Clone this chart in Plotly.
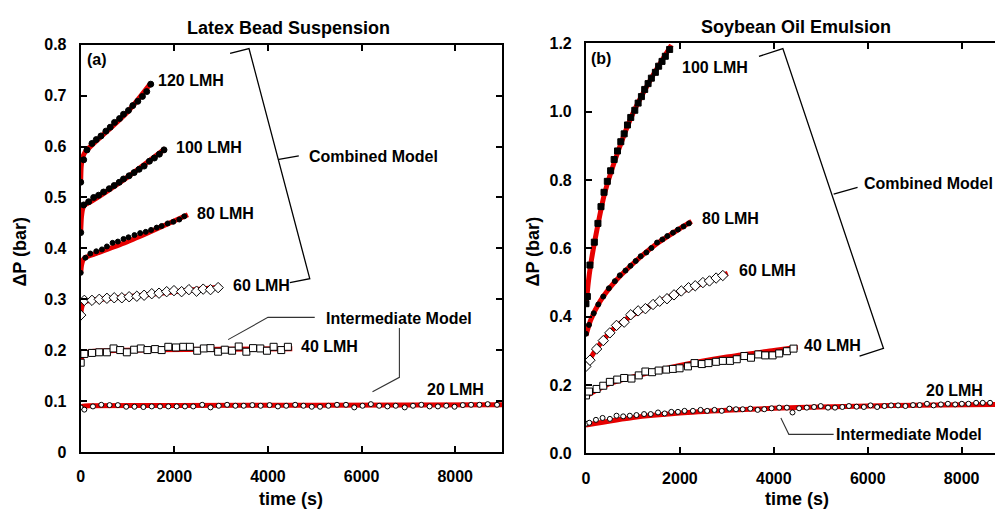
import plotly.graph_objects as go

W, H = 995, 512
FONT = "Liberation Sans, Arial, sans-serif"
RED = "#e60000"

# ---------------- Panel (a): Latex Bead Suspension ----------------
a120_t = [0, 64, 135, 241, 333, 433, 539, 631, 723, 830, 915, 1021, 1113, 1220, 1319, 1411, 1496]
a120_v = [0.530, 0.574, 0.5935, 0.6061, 0.6137, 0.6208, 0.6303, 0.638, 0.6475, 0.6551, 0.6634,
          0.671, 0.6805, 0.6889, 0.6985, 0.708, 0.7225]
a120_mt = [0, 10, 40, 100, 300, 1000, 1500]
a120_mv = [0.530, 0.560, 0.578, 0.590, 0.608, 0.668, 0.725]

a100_t = [0, 64, 170, 277, 383, 489, 610, 716, 823, 915, 1035, 1142, 1248, 1355, 1468, 1574, 1681, 1780]
a100_v = [0.431, 0.4853, 0.4917, 0.500, 0.5044, 0.5107, 0.5172, 0.5235, 0.5298, 0.5363, 0.5426,
          0.5489, 0.5554, 0.5617, 0.5712, 0.5775, 0.5851, 0.5935]
a100_mt = [0, 15, 40, 80, 200, 1000, 1810]
a100_mv = [0.431, 0.460, 0.477, 0.485, 0.491, 0.540, 0.596]

a80_t = [0, 100, 206, 333, 454, 560, 681, 794, 915, 1021, 1149, 1270, 1390, 1504, 1624, 1730,
         1858, 1979, 2106, 2213]
a80_v = [0.352, 0.3817, 0.3899, 0.3943, 0.398, 0.4038, 0.4109, 0.4134, 0.4185, 0.4218, 0.4261,
         0.430, 0.4325, 0.4363, 0.4408, 0.444, 0.449, 0.4523, 0.4567, 0.463]
a80_mt = [0, 20, 50, 100, 300, 1000, 1500, 2290]
a80_mv = [0.352, 0.368, 0.377, 0.382, 0.389, 0.413, 0.433, 0.466]

a60_t = [0, 78, 241, 397, 560, 716, 879, 1035, 1199, 1355, 1518, 1674, 1837, 1993, 2156, 2312,
         2475, 2617, 2773, 2936]
a60_v = [0.269, 0.298, 0.298, 0.300, 0.302, 0.303, 0.303, 0.305, 0.306, 0.308, 0.311, 0.312,
         0.315, 0.317, 0.315, 0.319, 0.316, 0.320, 0.319, 0.323]
a60_mt = [0, 20, 50, 100, 300, 1000, 2000, 3000]
a60_mv = [0.269, 0.283, 0.292, 0.296, 0.299, 0.305, 0.315, 0.324]

a40_t = [0, 78, 241, 397, 560, 702, 844, 986, 1142, 1284, 1426, 1589, 1730, 1872, 2035, 2191,
         2333, 2489, 2631, 2773, 2936, 3078, 3234, 3376, 3539, 3681, 3837, 3979, 4121, 4284, 4426]
a40_v = [0.1755, 0.1927, 0.1947, 0.1959, 0.1959, 0.2035, 0.2003, 0.1959, 0.2010, 0.2035, 0.2003,
         0.2022, 0.2003, 0.2067, 0.2054, 0.2067, 0.2067, 0.1990, 0.2035, 0.2041, 0.1971, 0.2010,
         0.1990, 0.2073, 0.1971, 0.2041, 0.2035, 0.1990, 0.2067, 0.2003, 0.2067]
a40_mt = [0, 30, 80, 200, 500, 1500, 3000, 4520]
a40_mv = [0.176, 0.187, 0.193, 0.197, 0.199, 0.201, 0.202, 0.203]

a20_t = [0, 78, 262, 440, 617, 794, 972, 1149, 1340, 1518, 1695, 1872, 2050, 2227, 2404, 2596,
         2773, 2950, 3128, 3305, 3482, 3667, 3844, 4035, 4213, 4390, 4582, 4759, 4936, 5113, 5291,
         5475, 5667, 5844, 6021, 6199, 6376, 6553, 6730, 6922, 7099, 7277, 7454, 7631, 7809, 7986,
         8163, 8340, 8518, 8695, 8894]
a20_v = [0.0877, 0.0833, 0.0896, 0.0928, 0.0922, 0.0922, 0.0890, 0.0890, 0.0884, 0.0896, 0.0896,
         0.0896, 0.0896, 0.0896, 0.0896, 0.0928, 0.0877, 0.0909, 0.0928, 0.0909, 0.0909, 0.0922,
         0.0909, 0.0922, 0.0896, 0.0909, 0.0928, 0.0909, 0.0890, 0.0890, 0.0909, 0.0928, 0.0928,
         0.0877, 0.0909, 0.0941, 0.0909, 0.0896, 0.0909, 0.0877, 0.0909, 0.0928, 0.0896, 0.0896,
         0.0909, 0.0890, 0.0922, 0.0928, 0.0928, 0.0941, 0.0928]
a20_mt = [0, 50, 200, 2000, 5000, 9000]
a20_mv = [0.087, 0.090, 0.091, 0.0915, 0.092, 0.093]

# ---------------- Panel (b): Soybean Oil Emulsion ----------------
b100_t = [0, 30, 85, 178, 255, 320, 385, 455, 525, 600, 672, 742, 814, 884, 954, 1040, 1111,
          1181, 1251, 1323, 1393, 1478, 1548, 1620, 1690, 1782]
b100_v = [0.438, 0.459, 0.551, 0.618, 0.673, 0.722, 0.764, 0.796, 0.827, 0.860, 0.885, 0.912,
          0.935, 0.961, 0.983, 1.004, 1.025, 1.044, 1.065, 1.082, 1.098, 1.115, 1.133, 1.147,
          1.162, 1.182]
b100_mt = [0, 50, 100, 200, 400, 700, 1000, 1400, 1820]
b100_mv = [0.430, 0.500, 0.552, 0.630, 0.762, 0.890, 0.995, 1.100, 1.195]

b80_t = [0, 64, 165, 263, 369, 488, 615, 721, 842, 948, 1060, 1166, 1287, 1393, 1514, 1627,
         1733, 1853, 1960, 2078, 2193]
b80_v = [0.350, 0.376, 0.410, 0.436, 0.459, 0.483, 0.504, 0.521, 0.535, 0.549, 0.563, 0.577,
         0.588, 0.601, 0.617, 0.626, 0.636, 0.646, 0.655, 0.664, 0.673]
b80_mt = [0, 100, 300, 600, 1000, 1500, 2000, 2250]
b80_mv = [0.345, 0.390, 0.445, 0.500, 0.555, 0.613, 0.658, 0.679]

b60_t = [0, 85, 227, 369, 509, 651, 814, 954, 1111, 1266, 1429, 1570, 1726, 1875, 2030, 2185,
         2327, 2490, 2630, 2772, 2914]
b60_v = [0.2546, 0.2727, 0.3055, 0.330, 0.3527, 0.3745, 0.384, 0.4057, 0.417, 0.4235, 0.4357,
         0.4452, 0.4526, 0.4639, 0.4752, 0.4848, 0.4905, 0.4998, 0.5046, 0.5131, 0.5205]
b60_mt = [0, 100, 300, 600, 1000, 1500, 2000, 2500, 3020]
b60_mv = [0.255, 0.280, 0.320, 0.366, 0.405, 0.440, 0.472, 0.499, 0.527]

b40_t = [0, 64, 227, 369, 509, 666, 814, 969, 1124, 1266, 1408, 1548, 1712, 1853, 1994, 2172,
         2312, 2469, 2609, 2772, 2914, 3069, 3211, 3372, 3514, 3669, 3818, 3974, 4115, 4278, 4420]
b40_v = [0.1697, 0.181, 0.1886, 0.198, 0.2093, 0.216, 0.2207, 0.219, 0.2283, 0.2396, 0.2376,
         0.2424, 0.2452, 0.2472, 0.249, 0.2546, 0.2642, 0.2614, 0.2642, 0.268, 0.2707, 0.2707,
         0.2755, 0.2849, 0.280, 0.2896, 0.2868, 0.2868, 0.2925, 0.299, 0.3066]
b40_mt = [0, 500, 1000, 2000, 3000, 4000, 4510]
b40_mv = [0.168, 0.204, 0.224, 0.257, 0.282, 0.301, 0.311]

b20_t = [0, 71, 213, 354, 510, 651, 793, 934, 1075, 1238, 1379, 1535, 1676, 1818, 1959, 2100,
         2277, 2440, 2581, 2737, 2892, 3055, 3196, 3338, 3500, 3656, 3797, 3953, 4115, 4278, 4398,
         4539, 4702, 4857, 4999, 5154, 5303, 5459, 5600, 5762, 5918, 6059, 6201, 6356, 6498, 6646,
         6802, 6964, 7106, 7261, 7403, 7558, 7707, 7862, 8004, 8145, 8308, 8449, 8605]
b20_v = [0.0868, 0.0897, 0.0982, 0.1038, 0.1010, 0.1103, 0.1084, 0.1103, 0.1122, 0.1151, 0.1151,
         0.1198, 0.1169, 0.1216, 0.1216, 0.1245, 0.1245, 0.1273, 0.1245, 0.1273, 0.1245, 0.1310,
         0.1292, 0.1292, 0.1310, 0.1273, 0.1292, 0.1320, 0.1339, 0.1339, 0.1198, 0.1320, 0.1339,
         0.1358, 0.1386, 0.1339, 0.1339, 0.1358, 0.1386, 0.1367, 0.1358, 0.1405, 0.1358, 0.1386,
         0.1405, 0.1405, 0.1386, 0.1414, 0.1414, 0.1452, 0.1405, 0.1433, 0.1452, 0.1433, 0.1452,
         0.1452, 0.1480, 0.1480, 0.1480]
b20_mt = [0, 1000, 2000, 3000, 4000, 5000, 6000, 7000, 8710]
b20_mv = [0.083, 0.105, 0.118, 0.126, 0.132, 0.136, 0.139, 0.141, 0.143]

# ticks
x_ticks = [0, 2000, 4000, 6000, 8000]
x_ticktext = ["0", "2000", "4000", "6000", "8000"]
ya_ticks = [0, 0.1, 0.2, 0.3, 0.4, 0.5, 0.6, 0.7, 0.8]
ya_ticktext = ["0", "0.1", "0.2", "0.3", "0.4", "0.5", "0.6", "0.7", "0.8"]
yb_ticks = [0, 0.2, 0.4, 0.6, 0.8, 1.0, 1.2]
yb_ticktext = ["0.0", "0.2", "0.4", "0.6", "0.8", "1.0", "1.2"]

fig = go.Figure()


def model(t, v, xa, ya):
    fig.add_trace(go.Scatter(x=t, y=v, mode="lines", xaxis=xa, yaxis=ya, showlegend=False,
                             line=dict(color=RED, width=5, shape="spline", smoothing=0.6),
                             hoverinfo="skip"))


def data(t, v, xa, ya, symbol, size, fill):
    fig.add_trace(go.Scatter(x=t, y=v, mode="markers", xaxis=xa, yaxis=ya, showlegend=False,
                             marker=dict(symbol=symbol, size=size, color=fill,
                                         line=dict(color="black", width=1))))


# panel a
for mt, mv in [(a120_mt, a120_mv), (a100_mt, a100_mv), (a80_mt, a80_mv),
               (a60_mt, a60_mv), (a40_mt, a40_mv), (a20_mt, a20_mv)]:
    model(mt, mv, "x", "y")
data(a120_t, a120_v, "x", "y", "circle", 6, "black")
data(a100_t, a100_v, "x", "y", "circle", 6, "black")
data(a80_t, a80_v, "x", "y", "circle", 5, "black")
data(a60_t, a60_v, "x", "y", "diamond", 8, "white")
data(a40_t, a40_v, "x", "y", "square", 7, "white")
data(a20_t, a20_v, "x", "y", "circle", 5, "white")

# panel b
for mt, mv in [(b100_mt, b100_mv), (b80_mt, b80_mv), (b60_mt, b60_mv),
               (b40_mt, b40_mv), (b20_mt, b20_mv)]:
    model(mt, mv, "x2", "y2")
data(b100_t, b100_v, "x2", "y2", "square", 6, "black")
data(b80_t, b80_v, "x2", "y2", "circle", 5, "black")
data(b60_t, b60_v, "x2", "y2", "diamond", 8, "white")
data(b40_t, b40_v, "x2", "y2", "square", 7, "white")
data(b20_t, b20_v, "x2", "y2", "circle", 5, "white")


def px(x):
    return x / W


def py(y):
    return 1 - y / H


tickfont = dict(family=FONT, size=16, color="black", weight="bold")
axis_common = dict(showline=True, linecolor="black", linewidth=2,
                   ticks="inside", ticklen=6, tickwidth=2, tickcolor="black",
                   showgrid=False, zeroline=False, tickfont=tickfont, tickmode="array",
                   ticklabelstandoff=9)

fig.update_layout(
    width=W, height=H, margin=dict(l=0, r=0, t=0, b=0),
    paper_bgcolor="white", plot_bgcolor="white",
    xaxis=dict(domain=[px(77), px(500)], range=[0, 9000], anchor="y", mirror="ticks",
               tickvals=x_ticks, ticktext=x_ticktext, **axis_common),
    yaxis=dict(domain=[py(459.3), py(38)], range=[0, 0.8], anchor="x", mirror="ticks",
               tickvals=ya_ticks, ticktext=ya_ticktext, **axis_common),
    xaxis2=dict(domain=[px(584.3), 1.0], range=[0, 8710], anchor="y2", mirror="ticks",
                tickvals=x_ticks, ticktext=x_ticktext, **axis_common),
    yaxis2=dict(domain=[py(460.7), py(36.5)], range=[0, 1.2], anchor="x2", mirror=False,
                tickvals=yb_ticks, ticktext=yb_ticktext, **axis_common),
)

annots = []


def txt(text, x, y, size=16, xanchor="left", angle=0):
    annots.append(dict(text="<b>" + text + "</b>", x=px(x), y=py(y), xref="paper", yref="paper",
                       showarrow=False, xanchor=xanchor, yanchor="middle", textangle=angle,
                       font=dict(family=FONT, size=size, color="black")))


# titles
txt("Latex Bead Suspension", 286, 21, 18, "center")
txt("Soybean Oil Emulsion", 795, 20, 18, "center")
txt("time (s)", 288, 508, 18, "center")
txt("time (s)", 796, 508, 18, "center")
txt("ΔP (bar)", 16, 252, 18, "center", -90)
txt("ΔP (bar)", 531, 252, 18, "center", -90)
# panel labels
txt("(a)", 81, 53, 16)
txt("(b)", 587, 52, 16)
# series labels panel a
txt("120 LMH", 153, 75)
txt("100 LMH", 171, 144)
txt("80 LMH", 192, 213)
txt("60 LMH", 228, 287)
txt("40 LMH", 296, 350)
txt("20 LMH", 423, 395)
txt("Intermediate Model", 321, 321)
txt("Combined Model", 304, 154)
# series labels panel b
txt("100 LMH", 679, 62)
txt("80 LMH", 699, 218)
txt("60 LMH", 736, 272)
txt("40 LMH", 801, 349)
txt("20 LMH", 924, 396)
txt("Intermediate Model", 833, 441)
txt("Combined Model", 861, 182)

fig.update_layout(annotations=annots)

shapes = []


def path(points, color="black", width=1.3):
    d = "M " + " L ".join(f"{px(x):.5f},{py(y):.5f}" for x, y in points)
    shapes.append(dict(type="path", path=d, xref="paper", yref="paper",
                       line=dict(color=color, width=width)))


# panel a bracket (Combined Model)
path([(227, 47), (246, 42), (307, 280), (287, 284)])
path([(276, 156.5), (296, 153)])
# panel a Intermediate Model leaders
path([(225, 343), (265, 320), (312, 320)], color="#333333", width=1.1)
path([(397, 331), (397, 382), (370, 397)], color="#333333", width=1.1)
# panel b bracket
path([(758, 50), (782, 42), (883, 352), (859, 360)])
path([(833, 192.5), (857, 185.5)])
# panel b Intermediate leader
path([(833, 441), (788, 441), (780, 424)], color="#333333", width=1.1)

fig.update_layout(shapes=shapes)

fig.write_html("out.html")
